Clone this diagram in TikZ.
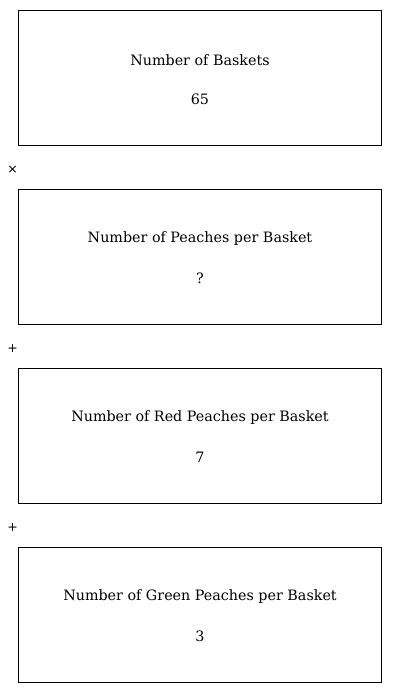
\documentclass[tikz,border=0pt]{standalone}
\usepackage{fontspec}
\setmainfont{DejaVu Serif}
\newfontfamily\symfont{DejaVu Sans}
\begin{document}
\begin{tikzpicture}[x=1pt,y=-1pt,
  box/.style={draw,line width=0.9pt},
  lbl/.style={anchor=center,inner sep=0pt,font=\fontsize{14.3}{17}\selectfont},
  op/.style={anchor=center,inner sep=0pt,font=\symfont\fontsize{12.5}{14}\selectfont}]
\useasboundingbox (0,0) rectangle (400,693);
\draw[box] (18.5,10.5) rectangle (381.5,145.5);
\draw[box] (18.5,189.5) rectangle (381.5,324.5);
\draw[box] (18.5,368.5) rectangle (381.5,503.5);
\draw[box] (18.5,547.5) rectangle (381.5,682.5);
\node[lbl] (t1) at (200,60) {Number of Baskets};
\node[lbl] (v1) at (200,99) {65};
\node[lbl] (t2) at (200,239) {Number of Peaches per Basket};
\node[lbl] (v2) at (200,278) {?};
\node[lbl] (t3) at (200,418) {Number of Red Peaches per Basket};
\node[lbl] (v3) at (200,457) {7};
\node[lbl] (t4) at (200,597) {Number of Green Peaches per Basket};
\node[lbl] (v4) at (200,636) {3};
\node[op] (o1) at (12.5,170) {×};
\node[op] (o2) at (12.5,349) {+};
\node[op] (o3) at (12.5,528) {+};
\end{tikzpicture}
\end{document}
